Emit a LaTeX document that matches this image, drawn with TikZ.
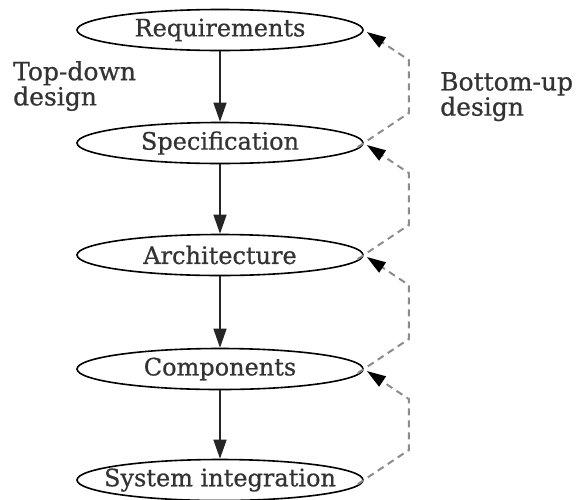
\documentclass[tikz,border=0pt]{standalone}
\usepackage{fontspec}
\setmainfont{DejaVu Serif}
\newfontfamily\heavyserif[FakeBold=0.7]{DejaVu Serif}
\usetikzlibrary{arrows.meta,calc,shapes.geometric}
\newcommand{\zwtext}[1]{\makebox[0pt]{#1}}
\tikzset{
  stage/.style={draw=black, line width=1.6pt, ellipse, minimum width=286pt, minimum height=41pt, inner sep=0pt, text=black!80, font=\heavyserif\fontsize{24}{28}\selectfont},
  down/.style={draw=black!85, line width=1.5pt, -{Triangle[length=19pt,width=13pt]}},
  upd/.style={draw=black!45, line width=2pt, dash pattern=on 7pt off 5pt, -{Triangle[length=19pt,width=12pt,color=black]}},
  lbl/.style={align=left, anchor=north west, inner sep=0pt, text=black!80, font=\heavyserif\fontsize{25}{23.5}\selectfont}
}
\begin{document}
\begin{tikzpicture}[x=1pt,y=-1pt]
\useasboundingbox (0,0) rectangle (577,499);
\node[stage] (req) at (220,30) {\zwtext{Requirements}};
\node[stage] (spec) at (220,143) {\zwtext{Specification}};
\node[stage] (arch) at (220,255) {\zwtext{Architecture}};
\node[stage] (comp) at (220,369) {\zwtext{Components}};
\node[stage] (sys) at (220,480) {\zwtext{System integration}};
\node[lbl] (td) at (13,61) {Top-down\\design};
\node[lbl] (bu) at (440,72) {Bottom-up\\design};
\draw[down] (req) -- (spec);
\draw[down] (spec) -- (arch);
\draw[down] (arch) -- (comp);
\draw[down] (comp) -- (sys);
\foreach \l/\u in {spec/req, arch/spec, comp/arch, sys/comp}{
  \draw[upd] ($(\l.east)+(-6,4)$) -- ($(\l.east)+(45,-30)$) -- ($(\u.east)+(45,30)$) -- ($(\u.east)+(3,2)$);
}
\end{tikzpicture}
\end{document}
